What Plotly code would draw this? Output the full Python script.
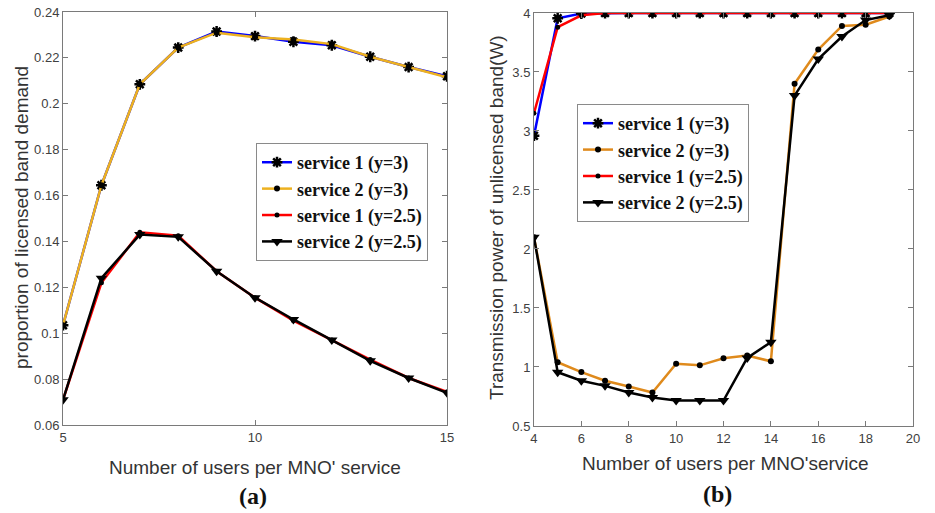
import plotly.graph_objects as go

# ---------------- data ----------------
x_a = [5, 6, 7, 8, 9, 10, 11, 12, 13, 14, 15]
a_s1_y3 = [0.1035, 0.1645, 0.2085, 0.2245, 0.2315, 0.2295, 0.2270, 0.2255, 0.2205, 0.2160, 0.2120]
a_s2_y3 = [0.1035, 0.1645, 0.2085, 0.2245, 0.2310, 0.2290, 0.2280, 0.2260, 0.2205, 0.2160, 0.2115]
a_s1_y25 = [0.0710, 0.1220, 0.1440, 0.1425, 0.1270, 0.1155, 0.1055, 0.0970, 0.0885, 0.0805, 0.0745]
a_s2_y25 = [0.0710, 0.1240, 0.1430, 0.1420, 0.1270, 0.1155, 0.1060, 0.0970, 0.0880, 0.0805, 0.0740]

x_b = [4, 5, 6, 7, 8, 9, 10, 11, 12, 13, 14, 15, 16, 17, 18, 19]
b_s1_y3 = [2.96, 3.955, 3.995, 4.0, 4.0, 4.0, 4.0, 4.0, 4.0, 4.0, 4.0, 4.0, 4.0, 4.0, 4.0, 4.0]
b_s2_y3 = [2.10, 1.04, 0.957, 0.884, 0.835, 0.784, 1.028, 1.014, 1.074, 1.097, 1.048, 3.40, 3.69, 3.89, 3.90, 3.97]
b_s1_y25 = [3.15, 3.88, 3.98, 4.0, 4.0, 4.0, 4.0, 4.0, 4.0, 4.0, 4.0, 4.0, 4.0, 4.0, 4.0, 4.0]
b_s2_y25 = [2.10, 0.955, 0.884, 0.84, 0.784, 0.742, 0.716, 0.716, 0.716, 1.077, 1.21, 3.30, 3.61, 3.80, 3.94, 3.98]

names = ["service 1 (y=3)", "service 2 (y=3)", "service 1 (y=2.5)", "service 2 (y=2.5)"]

a_xticks = [5, 10, 15]
a_yticks = [0.06, 0.08, 0.1, 0.12, 0.14, 0.16, 0.18, 0.2, 0.22, 0.24]
a_yticktext = ["0.06", "0.08", "0.1", "0.12", "0.14", "0.16", "0.18", "0.2", "0.22", "0.24"]
b_xticks = [4, 6, 8, 10, 12, 14, 16, 18, 20]
b_yticks = [0.5, 1, 1.5, 2, 2.5, 3, 3.5, 4]
b_yticktext = ["0.5", "1", "1.5", "2", "2.5", "3", "3.5", "4"]

# ---------------- styles ----------------
BLUE = "#0000FF"
GOLD = "#EDB120"
ORANGE = "#DF8A1C"
RED = "#FF0000"
BLACK = "#000000"
LW = 2.5

def styles(c2):
    return [
        dict(line=dict(color=BLUE, width=LW),
             marker=dict(symbol="asterisk-open", size=9, color=BLACK, line=dict(color=BLACK, width=2.5))),
        dict(line=dict(color=c2, width=LW),
             marker=dict(symbol="circle", size=6, color=BLACK, line=dict(width=0))),
        dict(line=dict(color=RED, width=LW),
             marker=dict(symbol="circle", size=5, color=BLACK, line=dict(width=0))),
        dict(line=dict(color=BLACK, width=LW),
             marker=dict(symbol="triangle-down", size=10, color=BLACK, line=dict(width=0))),
    ]

fig = go.Figure()

for ys, nm, st in zip([a_s1_y3, a_s2_y3, a_s1_y25, a_s2_y25], names, styles(GOLD)):
    fig.add_trace(go.Scatter(x=x_a, y=ys, name=nm, mode="lines+markers",
                             xaxis="x", yaxis="y", legend="legend", **st))

for ys, nm, st in zip([b_s1_y3, b_s2_y3, b_s1_y25, b_s2_y25], names, styles(ORANGE)):
    fig.add_trace(go.Scatter(x=x_b, y=ys, name=nm, mode="lines+markers",
                             xaxis="x2", yaxis="y2", legend="legend2", **st))

AX_COLOR = "#7a7a7a"
TICK_FONT = dict(family="Liberation Sans, Arial", size=13, color="#404040")
common = dict(showline=True, linecolor=AX_COLOR, linewidth=1, mirror="ticks",
              ticks="inside", ticklen=5, tickcolor=AX_COLOR, showgrid=False,
              zeroline=False, tickfont=TICK_FONT)

legend_style = dict(font=dict(family="Liberation Serif, Times New Roman", size=18, color="#111111", weight="bold"),
                    bgcolor="white", bordercolor="#8a8a8a", borderwidth=1,
                    xanchor="left", yanchor="top", tracegroupgap=0, itemwidth=30)

fig.update_layout(
    width=935, height=513,
    margin=dict(l=0, r=0, t=0, b=0, autoexpand=False),
    paper_bgcolor="white", plot_bgcolor="white",
    showlegend=True,
    xaxis=dict(domain=[0.0674, 0.4781], range=[5, 15], tickvals=a_xticks, anchor="y", **common),
    yaxis=dict(domain=[0.1715, 0.9766], range=[0.06, 0.24], tickvals=a_yticks, ticktext=a_yticktext,
               anchor="x", **common),
    xaxis2=dict(domain=[0.5711, 0.9765], range=[4, 20], tickvals=b_xticks, anchor="y2", **common),
    yaxis2=dict(domain=[0.1696, 0.9747], range=[0.5, 4], tickvals=b_yticks, ticktext=b_yticktext,
                anchor="x2", **common),
    legend=dict(x=0.2738, y=0.7212, **legend_style),
    legend2=dict(x=0.6171, y=0.7973, **legend_style),
)

TITLE_FONT = dict(family="Liberation Sans, Arial", size=19, color="#333333")
LABEL_FONT = dict(family="Liberation Serif, Times New Roman", size=24, color="#111111", weight="bold")

annos = [
    dict(x=255 / 935, y=1 - 467 / 513, text="Number of users per MNO' service", font=TITLE_FONT),
    dict(x=725 / 935, y=1 - 463 / 513, text="Number of users per MNO'service", font=TITLE_FONT),
    dict(x=21 / 935, y=1 - 218 / 513, text="proportion of licensed band demand", font=TITLE_FONT, textangle=-90),
    dict(x=496 / 935, y=1 - 218 / 513, text="Transmission power of unlicensed band(W)", font=TITLE_FONT, textangle=-90),
    dict(x=253 / 935, y=1 - 496 / 513, text="(a)", font=LABEL_FONT),
    dict(x=717 / 935, y=1 - 494 / 513, text="(b)", font=LABEL_FONT),
]
for a in annos:
    fig.add_annotation(xref="paper", yref="paper", showarrow=False, xanchor="center", yanchor="middle", **a)

fig.write_html("out.html", config={"displayModeBar": False},
               post_script="document.body.style.margin='0';document.body.style.overflow='hidden';")
